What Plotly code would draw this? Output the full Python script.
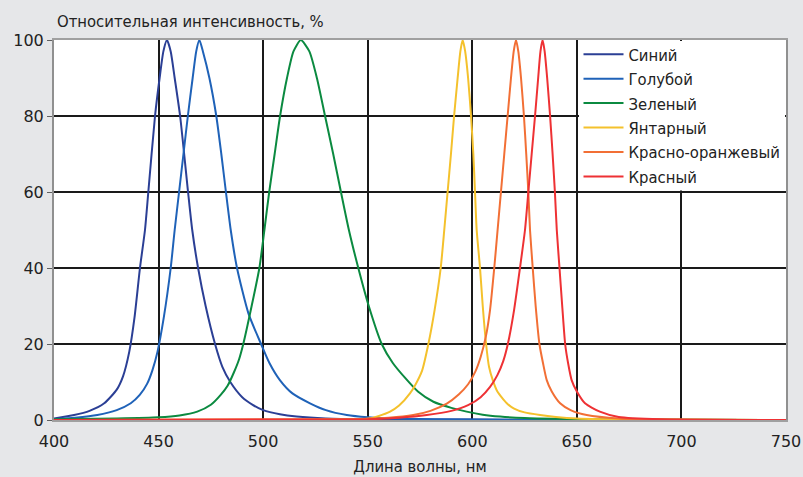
import plotly.graph_objects as go

# --- data (wavelength nm -> relative intensity %) ---
names = ["Синий", "Голубой", "Зеленый", "Янтарный", "Красно-оранжевый", "Красный"]
colors = ["#2b3f95", "#1f62b8", "#0b8a40", "#f4c12c", "#f26f35", "#ee3134"]

blue_x = [400, 409.6, 417, 424, 430, 433, 436, 438.5, 441.1, 443.5, 445.1, 448.3, 450.5, 452.3, 454,
          455.8, 457.7, 460.3, 464.1, 466.1, 468.9, 472.5, 477, 480.5, 484.3, 490, 495, 500, 508, 516, 530, 550, 600, 750]
blue_y = [0.4, 1.3, 2.4, 4.4, 8, 11.5, 18, 27, 40, 50, 60, 80, 90, 97, 100,
          97, 90, 80, 60, 50, 40, 30, 20, 14, 10, 6, 4, 2.6, 1.5, 0.9, 0.4, 0.2, 0.1, 0]

cyan_x = [400, 410, 420.7, 430, 436.7, 441, 444.5, 447, 449.5, 452.5, 455.8, 457.7, 459.8, 461.9, 464, 466.3, 468, 469.5,
          471.2, 474.3, 477.6, 480, 482.2, 484.5, 487.5, 493, 499, 503, 508, 514, 522.4, 530, 540, 550, 560, 600, 750]
cyan_y = [0.2, 0.6, 1.3, 2.6, 4.4, 6.6, 9.5, 13, 18, 27, 40, 50, 60, 70, 80, 90, 97, 100,
          97, 90, 80, 70, 60, 50, 40, 28, 20, 15, 10.5, 7, 4.4, 2.6, 1.3, 0.7, 0.4, 0.1, 0]

green_x = [400, 430, 450, 460, 468.5, 475, 479.7, 483, 486, 488.5, 490.5, 494.5, 498.2, 500.6, 502.9, 505.5, 508.1, 511.4, 514.5, 518,
           522.1, 525.7, 529.6, 533.5, 537.2, 541, 545.5, 550.5, 556.7, 562, 568, 574, 581.4, 590, 597.3, 605, 613.3, 625, 640, 680, 750]
green_y = [0.2, 0.4, 0.7, 1.2, 2.2, 4, 6.6, 9, 12.5, 16, 20, 30, 40, 50, 60, 70, 80, 90, 97, 100,
           97, 90, 80, 70, 60, 50, 40, 30, 20, 15, 11, 7.5, 4.8, 3.2, 2.2, 1.4, 0.9, 0.5, 0.3, 0.1, 0]

amber_x = [400, 540, 550, 555, 560.7, 565, 570.2, 573, 576, 579, 582, 584.9, 586.6, 588.2, 589.8, 591.3, 593, 594.3, 595.4,
           596.6, 598, 599.4, 600.5, 601.3, 602.1, 603.7, 605, 606.6, 608, 609.8, 612, 616.5, 620, 625, 632.4, 640, 650, 680, 750]
amber_y = [0, 0.1, 0.3, 1, 2.2, 3.8, 7, 9.5, 13, 20, 29, 40, 50, 60, 70, 80, 90, 97, 100,
           97, 90, 80, 70, 60, 50, 40, 30, 20, 14, 10.5, 7.5, 4.4, 3.0, 2.0, 1.3, 0.8, 0.4, 0.1, 0]

redor_x = [400, 540, 560, 571.8, 580, 587.8, 593.5, 598, 601.5, 604, 606.5, 608.5, 610.5, 612.1, 613.7, 615.3, 616.9, 618.5, 619.8, 620.9,
           622, 623.3, 624.7, 625.8, 626.8, 627.6, 628.9, 630.3, 632.1, 633.8, 635.6, 638, 642, 647, 654.7, 670, 700, 750]
redor_y = [0, 0.2, 0.6, 1.3, 2.4, 4.3, 6.7, 9.4, 12.8, 16.6, 22, 29, 40, 50, 60, 70, 80, 90, 97, 100,
           97, 90, 80, 70, 60, 50, 40, 30, 20, 15, 10.5, 7.5, 4.4, 2.6, 1.3, 0.4, 0.1, 0]

red_x = [400, 550, 565, 578.2, 590, 598, 604, 608.5, 612, 614.8, 617, 620, 622.8, 625.2, 626.8, 628.4, 630, 631.5, 632.6, 633.6,
         634.6, 635.8, 637.2, 638.4, 639.5, 640.4, 641.7, 643, 644.4, 645.8, 647.5, 650, 653.9, 661, 670, 690, 750]
red_y = [0, 0.2, 0.6, 1.3, 2.4, 3.9, 6, 8.7, 11.8, 15.5, 20, 29, 40, 50, 60, 70, 80, 90, 97, 100,
         97, 90, 80, 70, 60, 50, 40, 30, 20, 15, 10.5, 7.5, 4.4, 2.2, 0.8, 0.2, 0]

series_x = [blue_x, cyan_x, green_x, amber_x, redor_x, red_x]
series_y = [blue_y, cyan_y, green_y, amber_y, redor_y, red_y]

x_ticks = [400, 450, 500, 550, 600, 650, 700, 750]
y_ticks = [0, 20, 40, 60, 80, 100]

narrow = "DejaVu Sans Condensed, Liberation Sans Narrow, sans-serif"

fig = go.Figure()
for i, (nm, xs, ys, c) in enumerate(zip(names, series_x, series_y, colors)):
    fig.add_trace(go.Scatter(
        x=xs, y=ys, mode="lines", name=nm, legendgroup=f"g{i}",
        line=dict(color=c, width=2, shape="spline", smoothing=0.6),
        cliponaxis=False,
    ))

fig.update_layout(
    width=803, height=477,
    margin=dict(l=54, r=17, t=40, b=57),
    paper_bgcolor="#e6e7e9",
    plot_bgcolor="#ffffff",
    showlegend=True,
    legend=dict(
        x=(578.5 - 54) / 732, y=1.008, xanchor="left", yanchor="top",
        bgcolor="rgba(0,0,0,0)", borderwidth=0,
        font=dict(family=narrow, size=16.5, color="#222222"),
        tracegroupgap=0, itemwidth=40,
    ),
    xaxis=dict(
        range=[400, 750], tickvals=x_ticks, ticktext=[str(v) for v in x_ticks],
        showgrid=True, gridcolor="#1a1a1a", gridwidth=1.5,
        showline=True, linecolor="#a0a0a0", linewidth=2, mirror=True,
        zeroline=False, ticks="", automargin=False, ticklabelstandoff=6,
        tickfont=dict(family="DejaVu Sans", size=16, color="#222222"),
        title=dict(text="Длина волны, нм", font=dict(family=narrow, size=16.5, color="#222222"), standoff=10),
    ),
    yaxis=dict(
        range=[0, 100], tickvals=y_ticks, ticktext=[str(v) for v in y_ticks],
        showgrid=True, gridcolor="#1a1a1a", gridwidth=1.5,
        showline=True, linecolor="#909090", linewidth=2, mirror=True,
        zeroline=False, ticks="outside", ticklen=5, tickcolor="#606060", automargin=False,
        tickfont=dict(family="DejaVu Sans", size=16, color="#222222"),
    ),
    shapes=[dict(
        type="rect", xref="paper", yref="paper",
        x0=(579 - 54) / 732, x1=(785 - 54) / 732, y0=(420 - 190.5) / 380, y1=(420 - 41) / 380,
        fillcolor="#ffffff", line=dict(width=0), layer="above",
    )],
    annotations=[dict(
        text="Относительная интенсивность, %", xref="paper", yref="paper",
        x=0, y=1, xanchor="left", yanchor="middle", yshift=19, xshift=1,
        showarrow=False, font=dict(family=narrow, size=16.5, color="#222222"),
    )],
)

fig.write_html("out.html")
